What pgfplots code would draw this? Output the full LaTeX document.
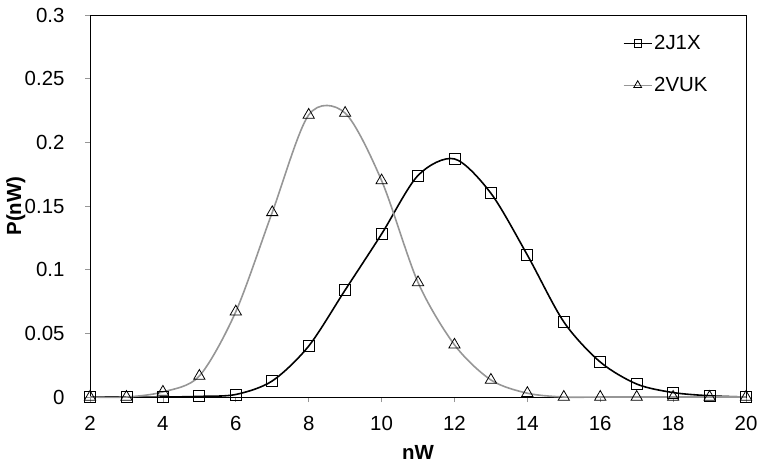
\documentclass[border=0pt]{standalone}
\usepackage{fontspec}
\setmainfont{Liberation Sans}
\usepackage{pgfplots}
\pgfplotsset{compat=1.18}
\definecolor{seriesgray}{RGB}{150,150,150}
\begin{document}
\begin{tikzpicture}
\begin{axis}[
  scale only axis, width=656bp, height=382bp,
  xmin=2, xmax=20, ymin=0, ymax=0.3,
  clip=false,
  xtick={2,4,6,8,10,12,14,16,18,20},
  ytick={0,0.05,0.1,0.15,0.2,0.25,0.3},
  yticklabels={0,0.05,0.1,0.15,0.2,0.25,0.3},
  xtick pos=left, ytick pos=left,
  tick align=outside, major tick length=5bp,
  tick style={seriesgray, line width=0.8pt},
  axis line style={black, line width=0.9pt},
  /pgf/number format/assume math mode=true,
  ticklabel style={font=\fontsize{20.5}{24}\selectfont},
  yticklabel style={xshift=-17bp},
  xticklabel style={yshift=-11bp},
  xlabel={\textbf{nW}}, ylabel={\textbf{P(nW)}},
  label style={font=\fontsize{20.5}{24}\selectfont},
  xlabel style={at={(axis description cs:0.5,-0.144)}, anchor=center},
  ylabel style={at={(axis description cs:-0.113,0.5)}, anchor=center},
  legend style={draw=none, fill=none, at={(axis description cs:0.808,0.957)}, anchor=north west,
    row sep=22bp, font=\fontsize{20.5}{24}\selectfont},
  legend cell align=left,
  legend image code/.code={\draw[mark repeat=2, mark phase=2, #1] plot coordinates {(0bp,0bp) (14bp,0bp) (28bp,0bp)};},
]
\addplot[black, line width=1.6pt, smooth, tension=0.5, mark=square, mark size=5.5bp,
  mark options={fill=white, line width=0.8pt, solid},
  legend image post style={line width=0.9pt, mark size=3.8bp}] coordinates {
(2,0) (3,0) (4,0) (5,0.0005) (6,0.002) (7,0.0126) (8,0.040) (9,0.084) (10,0.128)
(11,0.174) (12,0.187) (13,0.160) (14,0.1115) (15,0.059) (16,0.0275) (17,0.0102)
(18,0.0035) (19,0.001) (20,0)
};
\addlegendentry{2J1X}
\addplot[seriesgray, line width=1.6pt, smooth, tension=0.5, mark=triangle, mark size=6.5bp,
  mark options={draw=black, fill=white, line width=0.8pt, solid},
  legend image post style={line width=0.9pt, mark size=4.5bp}] coordinates {
(2,0) (3,0) (4,0.004) (5,0.0165) (6,0.067) (7,0.145) (8,0.2215) (9,0.223) (10,0.170)
(11,0.090) (12,0.041) (13,0.0134) (14,0.003) (15,0) (16,0) (17,0) (18,0) (19,0) (20,0)
};
\addlegendentry{2VUK}
\path (axis description cs:-0.1372,-0.1859) rectangle (axis description cs:1.0274,1.0393);
\end{axis}
\end{tikzpicture}
\end{document}
